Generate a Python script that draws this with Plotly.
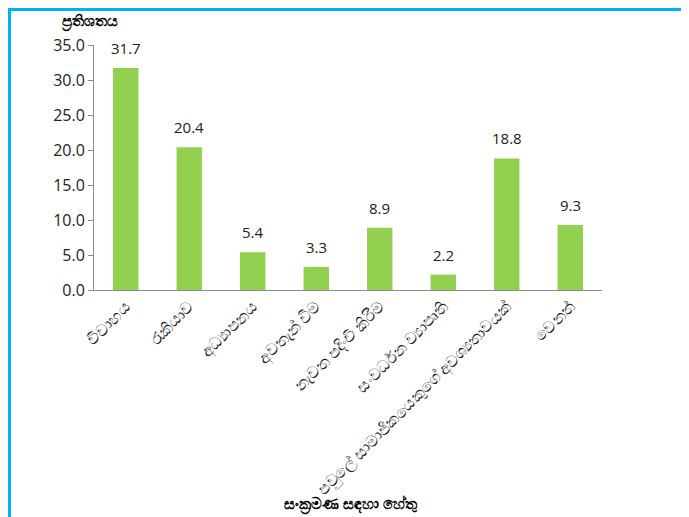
import plotly.graph_objects as go

categories = [
    "විවාහය",
    "රැකියාව",
    "අධ්‍යාපනය",
    "අවතැන් වීම",
    "නැවත පදිංචි කිරීම",
    "සංවර්ධන ව්‍යාපෘති",
    "පවුලේ සාමාජිකයෙකුගේ අවශ්‍යතාවයක්",
    "වෙනත්",
]
values = [31.7, 20.4, 5.4, 3.3, 8.9, 2.2, 18.8, 9.3]
y_ticks = [0, 5, 10, 15, 20, 25, 30, 35]
y_title = "ප්‍රතිශතය"
x_title = "සංක්‍රමණ සඳහා හේතු"

# figure is drawn inside an 8px body margin
W, H = 681, 509
L, R, T, B = 86, 87, 37, 227
pw, ph = W - L - R, H - T - B

def px(x):
    return (x - L) / pw

def py(y):
    return (H - B - y) / ph

font_fam = "Open Sans, Noto Sans, DejaVu Sans, sans-serif"

fig = go.Figure(go.Bar(
    x=categories, y=values,
    marker=dict(color="#92D050", line=dict(width=0)),
    cliponaxis=False,
))

annotations = [
    dict(x=c, y=v, text=f"{v:.1f}", showarrow=False, yanchor="bottom", yshift=8,
         font=dict(size=15, color="#222222"))
    for c, v in zip(categories, values)
]
annotations += [
    dict(text=f"<b>{y_title}</b>", xref="paper", yref="paper", x=px(82), y=py(13),
         xanchor="center", yanchor="middle",
         showarrow=False, font=dict(size=15, color="#000000")),
    dict(text=f"<b>{x_title}</b>", xref="paper", yref="paper", x=px(343), y=py(496),
         xanchor="center", yanchor="middle",
         showarrow=False, font=dict(size=15, color="#000000")),
]

fig.update_layout(
    width=W, height=H,
    margin=dict(l=L, r=R, t=T, b=B, autoexpand=False),
    plot_bgcolor="white", paper_bgcolor="white",
    bargap=0.6,
    showlegend=False,
    font=dict(family=font_fam, size=15, color="#222222"),
    xaxis=dict(
        tickangle=-45, showline=True, linecolor="#8c8c8c", linewidth=1, automargin=False,
        ticks="", tickfont=dict(size=16, color="#222222"), showgrid=False,
    ),
    yaxis=dict(
        range=[0, 35], tickvals=y_ticks, ticktext=[f"{v:.1f}" for v in y_ticks],
        showline=True, linecolor="#8c8c8c", linewidth=1, ticks="outside", automargin=False,
        ticklen=5, tickcolor="#8c8c8c", showgrid=False, zeroline=False,
        tickfont=dict(size=16, color="#222222"),
    ),
    shapes=[
        dict(type="line", xref="paper", yref="paper", x0=px(0), x1=px(W), y0=py(1.5), y1=py(1.5),
             line=dict(color="#00B0F0", width=3)),
        dict(type="line", xref="paper", yref="paper", x0=px(1.5), x1=px(1.5), y0=py(0), y1=py(H),
             line=dict(color="#00B0F0", width=3)),
    ],
    annotations=annotations,
)

fig.write_html("out.html")
